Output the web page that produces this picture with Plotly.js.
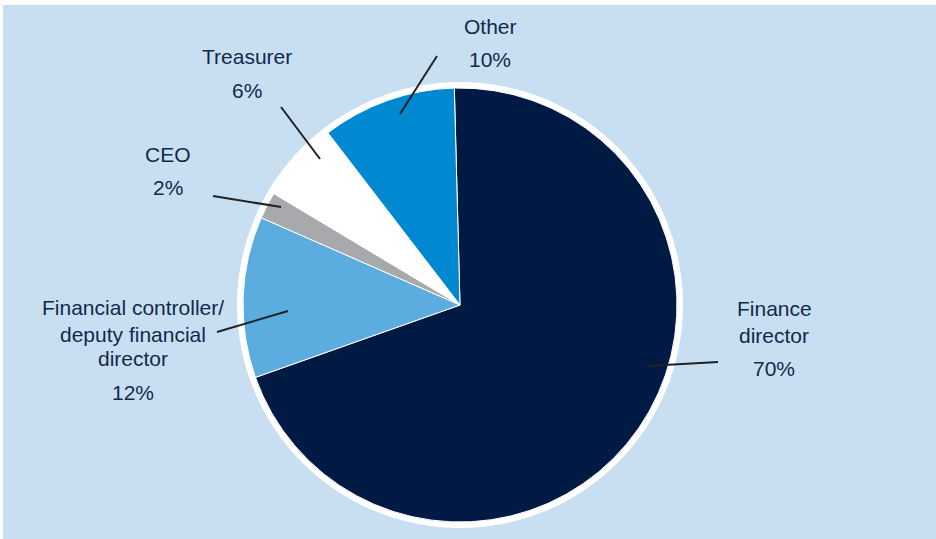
<!DOCTYPE html>
<html>
<head>
<meta charset="utf-8">
<script src="https://cdn.plot.ly/plotly-3.0.1.min.js"></script>
<style>html,body{margin:0;padding:0;background:#fff;}#chart{width:936px;height:539px;}</style>
</head>
<body>
<div id="chart"></div>
<script>
const categories = ["Finance director", "Financial controller/ deputy financial director", "CEO", "Treasurer", "Other"];
const shares = [70, 12, 2, 6, 10];
const sliceColors = ["#001A44", "#5BADE0", "#A8A9AD", "#FFFFFF", "#0089D0"];
const nameLines = [["Finance", "director"], ["Financial controller/", "deputy financial", "director"], ["CEO"], ["Treasurer"], ["Other"]];
const pctLabels = ["70%", "12%", "2%", "6%", "10%"];

const W = 936, H = 539;
const px = x => x / W;
const py = y => 1 - y / H;

// label layout (pixel positions): x centre, y of each name line, y of percent
const labelX = [774, 132.5, 168, 246.5, 490];
const nameY = [[308.5, 335], [307.5, 334, 358], [154.5], [56.7], [27]];
const pctY = [368.5, 392, 188, 90.5, 60];
const leaders = [[[647, 366], [718, 362]], [[217, 332], [288, 311]], [[213, 196], [281, 207]], [[281, 107], [320, 159]], [[437, 56], [400, 114]]];

const cx = 460, cy = 305, r = 217, ring = 223;
const dom = (rad) => ({
  x: [px(cx - rad), px(cx + rad)],
  y: [py(cy + rad), py(cy - rad)]
});

const traces = [
  {
    type: "pie", values: [1], labels: ["ring"], sort: false,
    marker: { colors: ["#FFFFFF"], line: { width: 0 } },
    textinfo: "none", hoverinfo: "skip", showlegend: false,
    domain: dom(ring)
  },
  {
    type: "pie", values: shares, labels: categories, sort: false,
    direction: "clockwise", rotation: -1.5,
    marker: { colors: sliceColors, line: { color: "#FFFFFF", width: 1 } },
    textinfo: "none", showlegend: false,
    domain: dom(r)
  }
];

const textColor = "#13294B";
const font = { family: "Liberation Sans, Arial, sans-serif", size: 21, color: textColor };
const annotations = [];
categories.forEach((c, i) => {
  nameLines[i].forEach((t, j) => {
    annotations.push({ xref: "paper", yref: "paper", x: px(labelX[i]), y: py(nameY[i][j]),
      text: t, showarrow: false, font: font, xanchor: "center", yanchor: "middle" });
  });
  annotations.push({ xref: "paper", yref: "paper", x: px(labelX[i]), y: py(pctY[i]),
    text: pctLabels[i], showarrow: false, font: font, xanchor: "center", yanchor: "middle" });
});

const shapes = [
  { type: "rect", xref: "paper", yref: "paper", x0: px(3), x1: 1, y0: 0, y1: py(5),
    fillcolor: "#C7DFF1", line: { width: 0 }, layer: "below" }
];
leaders.forEach(l => {
  shapes.push({ type: "line", xref: "paper", yref: "paper",
    x0: px(l[0][0]), y0: py(l[0][1]), x1: px(l[1][0]), y1: py(l[1][1]),
    line: { color: "#222222", width: 2 }, layer: "above" });
});

Plotly.newPlot("chart", traces, {
  width: W, height: H,
  margin: { l: 0, r: 0, t: 0, b: 0 },
  paper_bgcolor: "#FFFFFF",
  showlegend: false,
  shapes: shapes,
  annotations: annotations
}, { displayModeBar: false, staticPlot: true });
</script>
</body>
</html>
